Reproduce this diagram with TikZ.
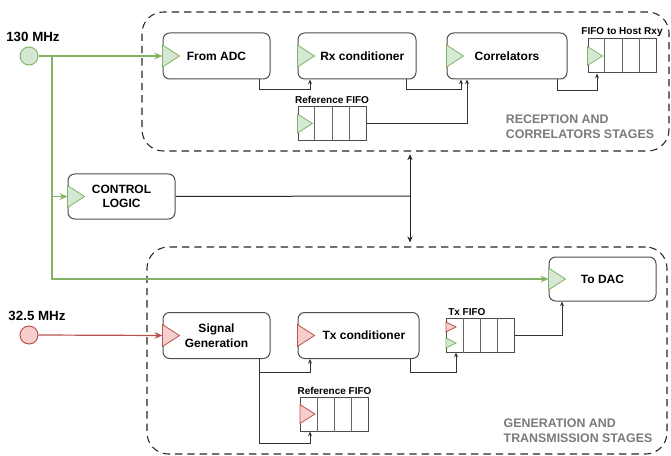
\documentclass[tikz,border=0pt]{standalone}
\usepackage{fontspec}
\setmainfont{Liberation Sans}
\usetikzlibrary{arrows.meta,calc}
\definecolor{gfill}{HTML}{D5E8D4}
\definecolor{gline}{HTML}{82B366}
\definecolor{rfill}{HTML}{F8CECC}
\definecolor{rline}{HTML}{B85450}

\begin{document}
\begin{tikzpicture}[
  x=0.75pt, y=-0.75pt,
  font=\bfseries\fontsize{9}{11}\selectfont,
  block/.style={draw=black!70, rounded corners=5pt, line width=0.75pt, minimum width=80.25pt, minimum height=34.5pt, align=center, inner sep=2pt},
  fifo/.style={draw=black!70, line width=0.75pt, minimum width=51pt, minimum height=25.5pt, inner sep=0pt},
  stage/.style={draw=black!85, dash pattern=on 5.5pt off 3.75pt, rounded corners=16pt, line width=0.8pt, inner sep=0pt},
  clock/.style={circle, minimum size=13.5pt, inner sep=0pt, line width=0.75pt},
  freq/.style={font=\bfseries\fontsize{10}{12}\selectfont},
  lbl/.style={font=\bfseries\fontsize{7.5}{9}\selectfont, inner sep=1.5pt},
  stagelbl/.style={text=black!52, align=left, font=\bfseries\fontsize{9.3}{11.25}\selectfont},
  gtri/.style={draw=gline, fill=gfill, line width=0.6pt},
  rtri/.style={draw=rline, fill=rfill, line width=0.6pt},
  garr/.style={draw=gline, line width=0.9pt, -{Stealth[length=6pt,width=5pt]}},
  rarr/.style={draw=rline, line width=0.9pt, -{Stealth[length=6pt,width=5pt]}},
  arr/.style={draw=black!80, line width=0.6pt, -{Stealth[length=3.5pt,width=3pt]}},
  bidir/.style={draw=black!85, line width=0.75pt, {Stealth[length=4.5pt,width=4pt]}-{Stealth[length=4.5pt,width=4pt]}}
]
\useasboundingbox (0,0) rectangle (671,456);

\node[stage, minimum width=395.25pt, minimum height=104.25pt] (rxstage) at (405.5,81.5) {};
\node[stage, minimum width=390pt, minimum height=155.25pt] (txstage) at (407,350.5) {};

\node[clock, draw=gline, fill=gfill, label={[freq, xshift=3pt]above:130 MHz}] (clka) at (29,56) {};
\node[clock, draw=rline, fill=rfill, label={[freq, xshift=6pt]above:32.5 MHz}] (clkb) at (29,335) {};

\node[block] (adc) at (216.5,56) {From ADC};
\node[block, minimum width=88.5pt] (rxc) at (357,56) {\hspace*{8pt}Rx conditioner};
\node[block, minimum width=90pt] (corr) at (507,56) {Correlators};
\node[fifo, label={[lbl]above:FIFO to Host Rxy}] (host) at (622,56) {};
\node[fifo, label={[lbl]above:Reference FIFO}] (refa) at (332,123.5) {};
\node[stagelbl] at (580,127) {RECEPTION AND\\CORRELATORS STAGES};

\node[block, minimum height=33.75pt] (ctrl) at (121.5,196.5) {CONTROL\\LOGIC};

\node[block, minimum height=33pt] (dac) at (602.5,279) {To DAC};
\node[block] (sig) at (216.5,335.5) {Signal\\Generation};
\node[block, minimum width=90.75pt] (txc) at (358.5,335.5) {\hspace*{8pt}Tx conditioner};
\node[fifo, label={[lbl, anchor=south west]north west:Tx FIFO}] (txf) at (480.5,335) {};
\node[fifo, label={[lbl]above:Reference FIFO}] (refb) at (334.5,414) {};
\node[stagelbl] at (578,431) {GENERATION AND\\TRANSMISSION STAGES};

\foreach \f in {host,refa,txf,refb}
  \foreach \i in {1,2,3}
    \draw[black!60, line width=0.6pt] ($(\f.north west)!\i/4!(\f.north east)$) -- ($(\f.south west)!\i/4!(\f.south east)$);

\foreach \n/\s in {adc/gtri,rxc/gtri,corr/gtri,ctrl/gtri,dac/gtri,sig/rtri,txc/rtri}
  \filldraw[\s] ([yshift=8.25pt]\n.west) -- ([xshift=12.75pt]\n.west) -- ([yshift=-8.25pt]\n.west) -- cycle;
\foreach \n/\s in {host/gtri,refa/gtri,refb/rtri}
  \filldraw[\s] ([yshift=7.1pt]\n.west) -- ([xshift=11.25pt]\n.west) -- ([yshift=-7.1pt]\n.west) -- cycle;
\filldraw[rtri] ([yshift=9.75pt]txf.west) -- ([xshift=7.5pt,yshift=6pt]txf.west) -- ([yshift=2.25pt]txf.west) -- cycle;
\filldraw[gtri] ([yshift=-2.25pt]txf.west) -- ([xshift=7.5pt,yshift=-6pt]txf.west) -- ([yshift=-9.75pt]txf.west) -- cycle;

\coordinate (gsplit) at (52,56);
\coordinate (bus) at (410,196);

\draw[garr] (clka.east) -- (adc.west);
\draw[garr] (gsplit) |- (dac.west);
\draw[garr] (gsplit |- ctrl.west) -- (ctrl.west);
\draw[rarr] (clkb.east) -- (sig.west);

\draw[arr] ($(adc.south)+(42.5,0)$) -- ++(0,10) -| ($(rxc.south)+(-47,0)$);
\draw[arr] ($(rxc.south)+(49,0)$) -- ++(0,10) -| ($(corr.south)+(-46,0)$);
\draw[arr] (refa.east) -| ($(corr.south)+(-40,0)$);
\draw[arr] ($(corr.south)+(50,0)$) -- ++(0,11) -| ($(host.south)+(-25,0)$);

\draw[black!85, line width=0.75pt] (ctrl.east) -- (bus);
\draw[bidir, shorten <=2pt, shorten >=3pt] (rxstage.south -| bus) -- (txstage.north -| bus);

\draw[arr] ($(sig.south)+(42.5,0)$) -- ++(0,13) -| ($(txc.south)+(-48.5,0)$);
\draw[arr] ($(sig.south)+(42.5,0)$) -- ++(0,84) -| ($(refb.south)+(-24.5,0)$);
\draw[arr] ($(txc.south)+(51.5,0)$) -- ++(0,13) -| ($(txf.south)+(-24.5,0)$);
\draw[arr] (txf.east) -| ($(dac.south)+(-40.5,0)$);
\end{tikzpicture}
\end{document}
